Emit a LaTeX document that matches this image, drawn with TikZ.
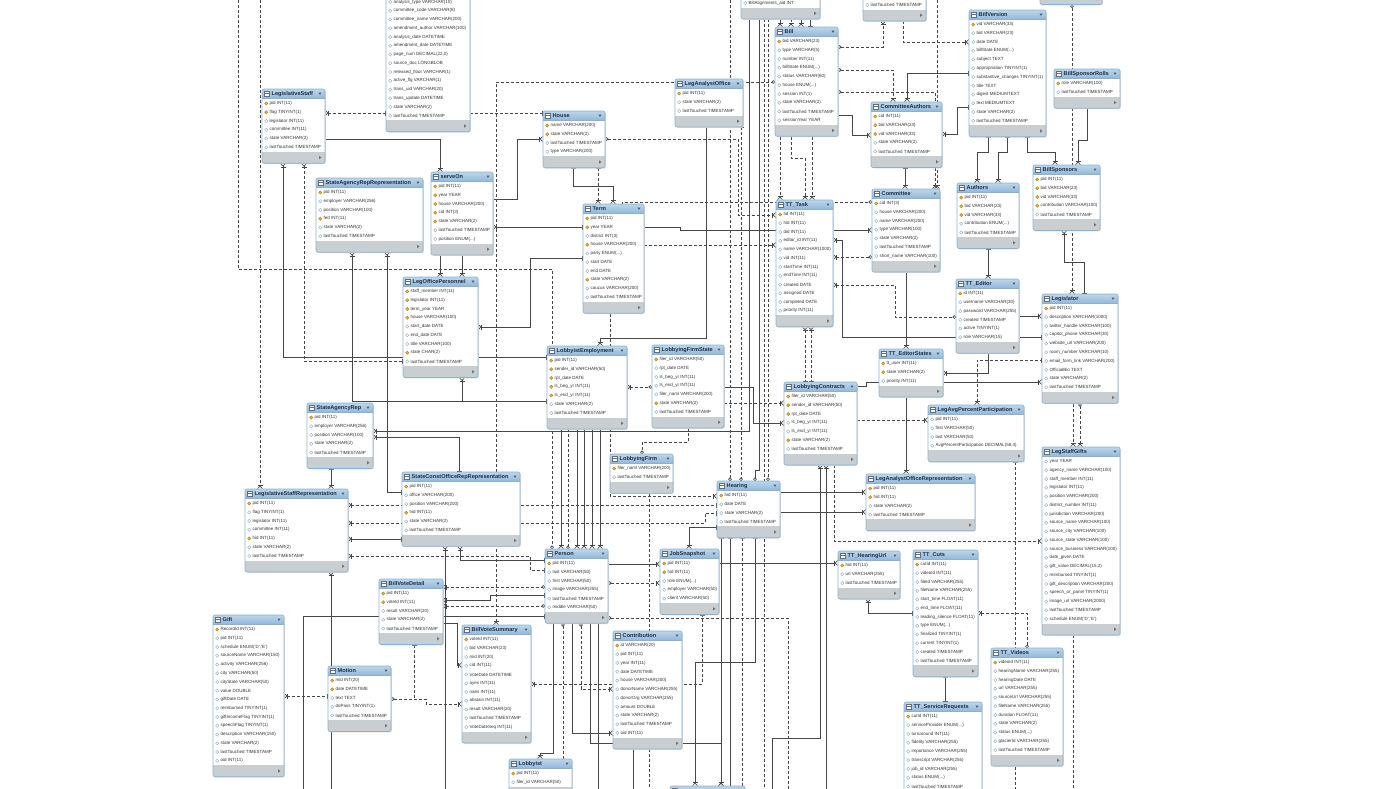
\documentclass[tikz,border=0pt]{standalone}
\usepackage{fontspec}
\setmainfont{Liberation Sans}
\usetikzlibrary{arrows.meta}
\pgfdeclarelayer{bg}
\pgfsetlayers{bg,main}
\definecolor{hdrA}{HTML}{BCD6EA}
\definecolor{hdrB}{HTML}{93B9D9}
\definecolor{bordc}{HTML}{8FB0CC}
\definecolor{footc}{HTML}{C9CED3}
\definecolor{ttlc}{HTML}{1D2E4A}
\definecolor{rowc}{HTML}{333333}
\definecolor{lnkc}{HTML}{474747}
\definecolor{keyc}{HTML}{E8B730}
\definecolor{keyd}{HTML}{A9801A}
\definecolor{dmdc}{HTML}{86A9C9}
\definecolor{shadc}{HTML}{D4DCE4}
\def\icofillk{keyc}\def\icofilld{white}
\def\icodrawk{keyd}\def\icodrawd{dmdc}
\def\ddd{...}
\tikzset{
  crow/.tip={Bar[width=5pt,line width=0.6pt] Straight Barb[reversed,length=2.6pt,width=5pt,line width=0.6pt]},
  one/.tip={Bar[width=5pt,line width=0.6pt]},
  zo/.tip={Circle[open,length=3.4pt,width=3.4pt,line width=0.6pt,fill=white]},
  rel/.style={draw=lnkc,line width=0.7pt},
  nrel/.style={rel,dash pattern=on 3pt off 2pt},
  tnode/.style={rectangle,inner sep=0pt,outer sep=0pt,draw=none},
  rowtxt/.style={inner sep=0pt,anchor=west,text=rowc,font=\fontsize{4.5}{5}\selectfont},
  ttltxt/.style={inner sep=0pt,anchor=west,text=ttlc,font=\bfseries\fontsize{5.6}{6}\selectfont},
}
\newcommand\etab[7]{%
  \pgfmathsetmacro\tabB{#3+21.75+8.75*#5}%
  \pgfmathsetmacro\tabW{#4-#2}%
  \pgfmathsetmacro\tabH{\tabB-#3}%
  \node[tnode,minimum width=\tabW pt,minimum height=\tabH pt,anchor=north west] (#1) at (#2,#3) {};%
  \fill[shadc,rounded corners=2pt] (#2+0.8,#3+0.8) rectangle (#4+0.8,\tabB+0.8);%
  \begin{scope}
    \clip[rounded corners=2pt] (#2,#3) rectangle (#4,\tabB);
    \fill[white] (#2,#3) rectangle (#4,\tabB);
    \shade[top color=hdrA,bottom color=hdrB] (#2,#3) rectangle (#4,#3+9);
    \draw[bordc,line width=0.4pt] (#2,#3+9) -- (#4,#3+9);
    \fill[footc] (#2,\tabB-11.5) rectangle (#4,\tabB);
  \end{scope}
  \draw[bordc,line width=0.6pt,rounded corners=2pt] (#2,#3) rectangle (#4,\tabB);
  \draw[ttlc!70,fill=white,line width=0.35pt] (#2+2.5,#3+2.4) rectangle (#2+7.5,#3+6.8);
  \draw[ttlc!70,line width=0.3pt] (#2+2.5,#3+3.8) -- (#2+7.5,#3+3.8);
  \node[ttltxt] at (#2+9.5,#3+4.7) {#6};
  \fill[ttlc!80] (#4-6.5,#3+3.5) -- (#4-3.5,#3+3.5) -- (#4-5,#3+5.8) -- cycle;
  \fill[black!55] (#4-6,\tabB-7.5) -- (#4-6,\tabB-4) -- (#4-3.5,\tabB-5.75) -- cycle;
  \foreach \rk/\rt [count=\ri] in {#7} {%
    \pgfmathsetmacro\yy{#3+14.5+8.75*(\ri-1)}%
    \edef\icf{\csname icofill\rk\endcsname}\edef\icd{\csname icodraw\rk\endcsname}%
    \path[fill=\icf,draw=\icd,line width=0.4pt] (#2+2.6,\yy) -- (#2+4.2,\yy-1.6) -- (#2+5.8,\yy) -- (#2+4.2,\yy+1.6) -- cycle;
    \node[rowtxt] at (#2+7.5,\yy) {\rt};
  }%
}
\begin{document}
\catcode`\_=12
\begin{tikzpicture}[x=1pt,y=-1pt]
\useasboundingbox (0,0) rectangle (1400,788);
% ---------------- tables ----------------
\etab{anlt}{386}{-12.5}{470}{14}{}{d/analysis_type VARCHAR(10), d/committee_code VARCHAR(8), d/committee_name VARCHAR(200), d/amendment_author VARCHAR(100), d/analysis_date DATETIME, d/amendment_date DATETIME, d/{page_num DECIMAL(22,0)}, d/source_doc LONGBLOB, d/released_floor VARCHAR(1), d/active_flg VARCHAR(1), d/trans_uid VARCHAR(20), d/trans_update DATETIME, d/state VARCHAR(2), d/lastTouched TIMESTAMP}
\etab{balign}{741}{-11.5}{820}{1}{}{d/BillAlignments_aid INT}
\etab{tpart}{863}{-9.5}{926}{1}{}{d/lastTouched TIMESTAMP}
\etab{trpart}{1040}{-26}{1102}{1}{}{d/{}}
\etab{lstaff}{262}{89}{325}{6}{LegislativeStaff}{k/pid INT(11), k/flag TINYINT(1), d/legislator INT(11), d/committee INT(11), d/state VARCHAR(2), d/lastTouched TIMESTAMP}
\etab{sarr}{316}{178}{423}{6}{StateAgencyRepRepresentation}{k/pid INT(11), d/employer VARCHAR(256), d/position VARCHAR(100), k/fed INT(11), d/state VARCHAR(2), d/lastTouched TIMESTAMP}
\etab{serveon}{431}{172}{493}{7}{serveOn}{k/pid INT(11), k/year YEAR, k/house VARCHAR(200), k/cid INT(3), k/state VARCHAR(2), d/lastTouched TIMESTAMP, d/position ENUM(\ddd)}
\etab{house}{543}{111}{605}{4}{House}{k/name VARCHAR(200), k/state VARCHAR(2), d/lastTouched TIMESTAMP, d/type VARCHAR(200)}
\etab{term}{583}{204}{644}{10}{Term}{k/pid INT(11), k/year YEAR, d/district INT(3), k/house VARCHAR(200), d/party ENUM(\ddd), d/start DATE, d/end DATE, k/state VARCHAR(2), d/caucus VARCHAR(200), d/lastTouched TIMESTAMP}
\etab{lao}{675}{79}{743}{3}{LegAnalystOffice}{k/pid INT(11), d/state VARCHAR(2), d/lastTouched TIMESTAMP}
\etab{bill}{775}{27}{838}{10}{Bill}{k/bid VARCHAR(23), d/type VARCHAR(5), d/number INT(11), d/billState ENUM(\ddd), d/status VARCHAR(60), d/house ENUM(\ddd), d/session INT(1), d/state VARCHAR(2), d/lastTouched TIMESTAMP, d/sessionYear YEAR}
\etab{cauth}{871}{102}{942}{5}{CommitteeAuthors}{k/cid INT(11), k/bid VARCHAR(23), k/vid VARCHAR(33), d/state VARCHAR(2), d/lastTouched TIMESTAMP}
\etab{bver}{969}{10}{1046}{12}{BillVersion}{k/vid VARCHAR(33), d/bid VARCHAR(23), d/date DATE, d/billState ENUM(\ddd), d/subject TEXT, d/appropriation TINYINT(1), d/substantive_changes TINYINT(1), d/title TEXT, d/digest MEDIUMTEXT, d/text MEDIUMTEXT, d/state VARCHAR(2), d/lastTouched TIMESTAMP}
\etab{bsrolls}{1054}{69}{1120}{2}{BillSponsorRolls}{k/role VARCHAR(100), d/lastTouched TIMESTAMP}
\etab{bspons}{1033}{165}{1100}{5}{BillSponsors}{k/pid INT(11), k/bid VARCHAR(23), k/vid VARCHAR(33), k/contribution VARCHAR(100), d/lastTouched TIMESTAMP}
\etab{authors}{957}{183}{1019}{5}{Authors}{k/pid INT(11), k/bid VARCHAR(23), k/vid VARCHAR(33), d/contribution ENUM(\ddd), d/lastTouched TIMESTAMP}
\etab{committee}{872}{189}{940}{7}{Committee}{k/cid INT(3), d/house VARCHAR(200), d/name VARCHAR(200), d/type VARCHAR(100), d/state VARCHAR(2), d/lastTouched TIMESTAMP, d/short_name VARCHAR(100)}
\etab{tttask}{776}{200}{833}{12}{TT_Task}{k/tid INT(11), d/hid INT(11), d/did INT(11), d/editor_id INT(11), d/name VARCHAR(1000), d/vid INT(11), d/startTime INT(11), d/endTime INT(11), d/created DATE, d/assigned DATE, d/completed DATE, d/priority INT(11)}
\etab{tted}{956}{279}{1019}{6}{TT_Editor}{k/id INT(11), d/username VARCHAR(30), d/password VARCHAR(255), d/created TIMESTAMP, d/active TINYINT(1), d/role VARCHAR(15)}
\etab{legis}{1042}{294}{1118}{10}{Legislator}{k/pid INT(11), d/description VARCHAR(1000), d/twitter_handle VARCHAR(100), d/capitol_phone VARCHAR(30), d/website_url VARCHAR(200), d/room_number VARCHAR(10), d/email_form_link VARCHAR(200), d/OfficialBio TEXT, d/state VARCHAR(2), d/lastTouched TIMESTAMP}
\etab{ttes}{879}{349}{943}{3}{TT_EditorStates}{k/tt_user INT(11), k/state VARCHAR(2), d/priority INT(11)}
\etab{lapp}{928}{405}{1024}{4}{LegAvgPercentParticipation}{d/pid INT(11), d/first VARCHAR(50), d/last VARCHAR(50), d/{AvgPercentParticipation DECIMAL(58,4)}}
\etab{lsg}{1042}{447}{1120}{19}{LegStaffGifts}{d/year YEAR, d/agency_name VARCHAR(100), d/staff_member INT(11), d/legislator INT(11), d/position VARCHAR(200), d/district_number INT(11), d/jurisdiction VARCHAR(200), d/source_name VARCHAR(100), d/source_city VARCHAR(100), d/source_state VARCHAR(100), d/source_business VARCHAR(100), d/date_given DATE, d/{gift_value DECIMAL(15,2)}, d/reimbursed TINYINT(1), d/gift_description VARCHAR(200), d/speech_or_panel TINYINT(1), d/image_url VARCHAR(2000), d/lastTouched TIMESTAMP, d/{schedule ENUM('D','E')}}
\etab{laor}{866}{474}{975}{4}{LegAnalystOfficeRepresentation}{k/pid INT(11), k/hid INT(11), d/state VARCHAR(2), d/lastTouched TIMESTAMP}
\etab{lcon}{784}{382}{857}{7}{LobbyingContracts}{k/filer_id VARCHAR(50), k/sender_id VARCHAR(50), k/rpt_date DATE, d/ls_beg_yr INT(11), d/ls_end_yr INT(11), k/state VARCHAR(2), d/lastTouched TIMESTAMP}
\etab{lemp}{547}{346}{627}{7}{LobbyistEmployment}{k/pid INT(11), k/sender_id VARCHAR(50), k/rpt_date DATE, k/ls_beg_yr INT(11), k/ls_end_yr INT(11), d/state VARCHAR(2), d/lastTouched TIMESTAMP}
\etab{lfs}{652}{345}{724}{7}{LobbyingFirmState}{k/filer_id VARCHAR(50), d/rpt_date DATE, d/ls_beg_yr INT(11), d/ls_end_yr INT(11), d/filer_naml VARCHAR(200), k/state VARCHAR(2), d/lastTouched TIMESTAMP}
\etab{lfirm}{610}{454}{673}{2}{LobbyingFirm}{k/filer_naml VARCHAR(200), d/lastTouched TIMESTAMP}
\etab{hearing}{717}{481}{780}{4}{Hearing}{k/hid INT(11), d/date DATE, d/state VARCHAR(2), d/lastTouched TIMESTAMP}
\etab{lop}{403}{277}{478}{9}{LegOfficePersonnel}{k/staff_member INT(11), k/legislator INT(11), k/term_year YEAR, k/house VARCHAR(100), d/start_date DATE, d/end_date DATE, d/title VARCHAR(100), k/state CHAR(2), d/lastTouched TIMESTAMP}
\etab{sar}{307}{403}{373}{5}{StateAgencyRep}{k/pid INT(11), d/employer VARCHAR(256), d/position VARCHAR(100), d/state VARCHAR(2), d/lastTouched TIMESTAMP}
\etab{scor}{402}{472}{520}{6}{StateConstOfficeRepRepresentation}{k/pid INT(11), d/office VARCHAR(200), d/position VARCHAR(200), k/hid INT(11), d/state VARCHAR(2), d/lastTouched TIMESTAMP}
\etab{lsr}{245}{489}{348}{7}{LegislativeStaffRepresentation}{k/pid INT(11), d/flag TINYINT(1), d/legislator INT(11), d/committee INT(11), k/hid INT(11), d/state VARCHAR(2), d/lastTouched TIMESTAMP}
\etab{bvd}{379}{579}{443}{5}{BillVoteDetail}{k/pid INT(11), k/voteId INT(11), d/result VARCHAR(20), d/state VARCHAR(2), d/lastTouched TIMESTAMP}
\etab{gift}{213}{615}{284}{16}{Gift}{k/RecordId INT(11), d/pid INT(11), d/{schedule ENUM('D','E')}, d/sourceName VARCHAR(150), d/activity VARCHAR(256), d/city VARCHAR(50), d/cityState VARCHAR(50), d/value DOUBLE, d/giftDate DATE, d/reimbursed TINYINT(1), d/giftIncomeFlag TINYINT(1), d/speechFlag TINYINT(1), d/description VARCHAR(150), d/state VARCHAR(2), d/lastTouched TIMESTAMP, d/oid INT(11)}
\etab{motion}{328}{666}{391}{5}{Motion}{k/mid INT(20), k/date DATETIME, d/text TEXT, d/doPass TINYINT(1), d/lastTouched TIMESTAMP}
\etab{bvs}{462}{625}{531}{11}{BillVoteSummary}{k/voteId INT(11), d/bid VARCHAR(23), d/mid INT(20), d/cid INT(11), d/VoteDate DATETIME, d/ayes INT(11), d/naes INT(11), d/abstain INT(11), d/result VARCHAR(20), d/lastTouched TIMESTAMP, d/VoteDateSeq INT(11)}
\etab{lobbyist}{509}{759}{572}{2}{Lobbyist}{k/pid INT(11), d/filer_id VARCHAR(50)}
\etab{person}{545}{549}{608}{6}{Person}{k/pid INT(11), d/last VARCHAR(50), d/first VARCHAR(50), d/image VARCHAR(255), d/lastTouched TIMESTAMP, d/middle VARCHAR(50)}
\etab{jobs}{660}{549}{719}{5}{JobSnapshot}{k/pid INT(11), k/hid INT(11), d/role ENUM(\ddd), d/employer VARCHAR(50), d/client VARCHAR(50)}
\etab{contrib}{613}{631}{682}{11}{Contribution}{k/id VARCHAR(20), d/pid INT(11), d/year INT(11), d/date DATETIME, d/house VARCHAR(200), d/donorName VARCHAR(255), d/donorOrg VARCHAR(255), d/amount DOUBLE, d/state VARCHAR(2), d/lastTouched TIMESTAMP, d/oid INT(11)}
\etab{tthu}{838}{551}{900}{3}{TT_HearingUrl}{k/hid INT(11), d/url VARCHAR(255), d/lastTouched TIMESTAMP}
\etab{ttcuts}{913}{550}{978}{12}{TT_Cuts}{k/cutId INT(11), d/videoId INT(11), d/fileId VARCHAR(255), d/fileName VARCHAR(255), d/start_time FLOAT(11), d/end_time FLOAT(11), d/leading_silence FLOAT(11), d/type ENUM(\ddd), d/finalized TINYINT(1), d/current TINYINT(1), d/created TIMESTAMP, d/lastTouched TIMESTAMP}
\etab{ttvid}{991}{648}{1063}{11}{TT_Videos}{k/videoId INT(11), d/hearingName VARCHAR(255), d/hearingDate DATE, d/url VARCHAR(255), d/sourceUrl VARCHAR(255), d/fileName VARCHAR(255), d/duration FLOAT(11), d/state VARCHAR(2), d/status ENUM(\ddd), d/glacierId VARCHAR(255), d/lastTouched TIMESTAMP}
\etab{ttsr}{904}{702}{982}{9}{TT_ServiceRequests}{k/cutId INT(11), d/serviceProvider ENUM(\ddd), d/turnaround INT(11), d/fidelity VARCHAR(255), d/importance VARCHAR(255), d/transcript VARCHAR(255), d/job_id VARCHAR(255), d/status ENUM(\ddd), d/lastTouched TIMESTAMP}
\etab{botpart}{670}{786}{745}{1}{}{d/{}}
% free ends
\coordinate (fA) at (238,-5);  \coordinate (fB) at (260,-5);
\coordinate (fC) at (445,795); \coordinate (fD) at (303,795);
\coordinate (fE) at (331,795); \coordinate (fF) at (563,795);
\coordinate (fG) at (598,795); \coordinate (fH) at (633,795);
\coordinate (fI) at (649,795); \coordinate (fJ) at (788,795);
\coordinate (fK) at (730,795); \coordinate (fL) at (742,795);
\coordinate (fN) at (764,795); \coordinate (fO) at (772,795);
\coordinate (fP) at (826,795); \coordinate (fQ) at (730,-5);
\coordinate (fR) at (1015,795); \coordinate (fS) at (1073,795);
\coordinate (fT) at (937,-5);  \coordinate (mj) at (414,699);
% ---------------- connectors ----------------
\begin{pgfonlayer}{bg}
\fill[white] (0,0) rectangle (1400,788);
\draw[nrel,-zo] (fA) -- (238,269) -- (552,269) -- (person.north -| 552,0);
\draw[nrel,-crow] (fB) -- (lsr.north -| 260,0);
\draw[nrel,crow-one] (lstaff.east |- 0,113) -- (anlt.west |- 0,113);
\draw[rel,one-crow] (lstaff.east |- 0,139) -| (serveon.north -| 440,0);
\draw[rel,crow-one] (lstaff.south -| 283,0) |- (lemp.west |- 0,357);
\draw[nrel,crow-one] (lstaff.south -| 304,0) |- (lop.west |- 0,361);
\draw[nrel,-one] (anlt.east |- 0,113) -- (house.west |- 0,113);
\draw[nrel,crow-zo] (bvs.north -| 496,0) |- (bill.west |- 0,82);
\draw[rel,one-crow] (house.south -| 573,0) -- (573,186) -| (term.north -| 613,0);
\draw[nrel,one-crow] (house.south -| 598,0) -- (term.north -| 598,0);
\draw[nrel,zo-crow] (house.east |- 0,139) -| (738,215) -- (tttask.west |- 0,215);
\draw[rel,crow-one] (serveon.east |- 0,227) -- (term.west |- 0,227);
\draw[rel,one-crow] (term.east |- 0,227) -- (680,227) -- (680,230) -- (committee.west |- 0,230);
\draw[rel,crow-one] (tttask.east |- 0,240) -| (842,337) -- (legis.west |- 0,337);
\draw[nrel,-zo] (term.north -| 622,0) -- (622,202) -- (committee.west |- 0,202);
\draw[nrel,one-crow] (term.east |- 0,245) -- (tttask.west |- 0,245);
\draw[nrel,crow-zo] (tttask.east |- 0,257) -- (committee.west |- 0,257);
\draw[rel,crow-one] (lop.east |- 0,327) -| (530,258) -- (term.west |- 0,258);
\draw[rel,crow-one] (sarr.south -| 352,0) |- (lemp.west |- 0,401);
\draw[rel,crow-one] (lop.south -| 462,0) |- (lemp.west |- 0,401);
\draw[rel,crow-one] (sarr.south -| 387,0) |- (scor.west |- 0,492);
\draw[rel,crow-one] (sar.east |- 0,431) -| (balign.south -| 749,0);
\draw[rel,crow-one] (sar.east |- 0,437) -| (scor.north -| 459,0);
\draw[rel,one-crow] (sar.south -| 331,0) -- (lsr.north -| 331,0);
\draw[nrel,crow-one] (lsr.east |- 0,505) -- (hearing.west |- 0,505);
\draw[nrel,crow-one] (lsr.east |- 0,523) -- (705,523) -- (705,513) -- (hearing.west |- 0,513);
\draw[rel,crow-one] (lsr.east |- 0,539) -- (scor.west |- 0,539);
\draw[nrel,crow-one] (lsr.east |- 0,556) -- (530,556) -- (530,570) -- (person.west |- 0,570);
\draw[rel,crow-] (scor.south -| 445,0) -- (fC);
\draw[rel,crow-one] (scor.south -| 460,0) |- (person.west |- 0,560);
\draw[nrel,crow-zo] (bvd.east |- 0,587) -- (person.west |- 0,587);
\draw[rel,crow-one] (bvd.east |- 0,600) -- (490,600) -- (490,595) -- (person.west |- 0,595);
\draw[nrel,crow-zo] (bvd.east |- 0,606) -- (person.west |- 0,606);
\draw[rel,-one] (fD) |- (person.west |- 0,616);
\draw[rel,one-crow] (bvd.east |- 0,623) -| (457,665) -- (bvs.west |- 0,665);
\draw[nrel,crow-one] (gift.east |- 0,696) -- (motion.west |- 0,696);
\draw[nrel,zo-crow] (motion.east |- 0,699) -- (426,699) -- (426,704) -- (bvs.west |- 0,704);
\draw[nrel,one-] (bvd.south -| 414,0) -- (mj);
\draw[rel,crow-] (lsr.south -| 331,0) -- (fE);
\draw[rel,one-crow] (person.south -| 553,0) -- (553,753) -- (540,753) -- (lobbyist.north -| 540,0);
\draw[nrel,zo-] (person.south -| 563,0) -- (fF);
\draw[rel,one-crow] (person.south -| 572,0) |- (contrib.west |- 0,733);
\draw[nrel,zo-crow] (person.south -| 581,0) |- (contrib.west |- 0,689);
\draw[rel,one-crow] (person.south -| 590,0) |- (721,743) -- (botpart.north -| 721,0);
\draw[rel,one-] (person.south -| 598,0) -- (fG);
\draw[nrel,crow-one] (bvs.east |- 0,684) -| (jobs.south -| 702,0);
\draw[rel,one-] (contrib.south -| 633,0) -- (fH);
\draw[nrel,one-] (lfirm.south -| 649,0) -- (fI);
\draw[rel,one-crow] (person.east |- 0,564) -- (jobs.west |- 0,564);
\draw[nrel,zo-crow] (person.east |- 0,583) -- (jobs.west |- 0,583);
\draw[nrel,zo-] (person.east |- 0,618) -| (fJ);
\draw[rel,one-crow] (hearing.south -| 755,0) |- (695,662) -- (botpart.north -| 695,0);
\draw[rel,one-crow] (hearing.south -| 721,0) -- (botpart.north -| 721,0);
\draw[rel,one-] (hearing.south -| 730,0) -- (fK);
\draw[nrel,one-] (hearing.south -| 742,0) -- (fL);
\draw[nrel,one-] (balign.south -| 764,0) -- (fN);
\draw[rel,crow-] (lcon.south -| 820,0) |- (772,738) -- (fO);
\draw[rel,one-crow] (jobs.east |- 0,563) -- (tthu.west |- 0,563);
\draw[rel,crow-] (lcon.south -| 826,0) -- (fP);
\draw[nrel,one-crow] (lcon.south -| 834,0) |- (lsg.west |- 0,541);
\draw[nrel,-zo] (fQ) -- (hearing.north -| 730,0);
\draw[nrel,one-zo] (lao.south -| 741,0) -- (hearing.north -| 741,0);
\draw[rel,one-zo] (balign.south -| 759,0) -- (759,470) -- (755,470) -- (hearing.north -| 755,0);
\draw[nrel,one-zo] (balign.south -| 768,0) -- (hearing.north -| 768,0);
\draw[rel,one-crow] (lao.south -| 706,0) |- (600,338) -- (lemp.north -| 600,0);
\draw[nrel,one-crow] (term.south -| 610,0) |- (hearing.west |- 0,496);
\draw[rel,one-crow] (lemp.south -| 561,0) -- (person.north -| 561,0);
\draw[nrel,one-zo] (lemp.south -| 568,0) -- (person.north -| 568,0);
\draw[rel,one-crow] (lemp.south -| 577,0) -- (person.north -| 577,0);
\draw[rel,one-crow] (lemp.south -| 584,0) -- (person.north -| 584,0);
\draw[rel,one-crow] (lemp.south -| 592,0) -- (person.north -| 592,0);
\draw[rel,one-crow] (lemp.south -| 600,0) -- (person.north -| 600,0);
\draw[nrel,crow-zo] (lemp.east |- 0,387) -- (lfs.west |- 0,387);
\draw[nrel,one-zo] (lfs.south -| 688,0) |- (642,442) -- (lfirm.north -| 642,0);
\draw[rel,one-crow] (lfs.east |- 0,387) -| (753,423) -- (lcon.west |- 0,423);
\draw[nrel,one-crow] (lfs.east |- 0,403) -- (lcon.west |- 0,403);
\draw[nrel,crow-one] (tttask.south -| 805,0) -- (lcon.north -| 805,0);
\draw[nrel,crow-one] (tttask.south -| 811,0) -- (lcon.north -| 811,0);
\draw[rel,one-crow] (lcon.east |- 0,386) -- (866,386) -- (866,382) -- (legis.west |- 0,382);
\draw[nrel,one-crow] (lcon.east |- 0,420) -- (lapp.west |- 0,420);
\draw[rel,one-crow] (hearing.east |- 0,492) -- (laor.west |- 0,492);
\draw[rel,one-crow] (hearing.east |- 0,512) -- (laor.west |- 0,512);
\draw[rel,crow-one] (jobs.north -| 689,0) |- (hearing.west |- 0,527);
\draw[rel,crow-one] (tthu.south -| 868,0) |- (ttcuts.west |- 0,613);
\draw[nrel,crow-zo] (ttcuts.east |- 0,613) -| (ttvid.north -| 1027,0);
\draw[rel,one-one] (ttcuts.south -| 945,0) -- (ttsr.north -| 945,0);
\draw[nrel,one-] (lapp.south -| 1015,0) -- (fR);
\draw[nrel,one-] (lsg.south -| 1073,0) -- (fS);
\draw[nrel,one-crow] (legis.south -| 1073,0) -- (lsg.north -| 1073,0);
\draw[nrel,zo-crow] (legis.south -| 1080,0) -- (lsg.north -| 1080,0);
\draw[nrel,crow-one] (lapp.north -| 977,0) |- (legis.west |- 0,360);
\draw[rel,crow-one] (ttes.east |- 0,373) -| (tted.south -| 988,0);
\draw[rel,one-crow] (committee.south -| 906,0) -- (ttes.north -| 906,0);
\draw[rel,one-crow] (ttes.south -| 906,0) -- (laor.north -| 906,0);
\draw[nrel,crow-zo] (tttask.east |- 0,285) -| (895,317) -- (tted.west |- 0,317);
\draw[rel,one-crow] (tted.east |- 0,316) -- (legis.west |- 0,316);
\draw[rel,one-crow] (authors.south -| 988,0) -- (tted.north -| 988,0);
\draw[rel,one-crow] (bver.south -| 988,0) -- (988,152) -- (977,152) -- (authors.north -| 977,0);
\draw[rel,one-crow] (bver.south -| 1007,0) -- (1007,152) -- (998,152) -- (authors.north -| 998,0);
\draw[rel,one-crow] (bver.south -| 1027,0) -- (1027,152) -- (1055,152) -- (bspons.north -| 1055,0);
\draw[rel,one-crow] (bsrolls.south -| 1087,0) -- (1087,140) -- (1078,140) -- (bspons.north -| 1078,0);
\draw[nrel,zo-crow] (trpart.south -| 1072,0) -- (legis.north -| 1072,0);
\draw[rel,crow-one] (bspons.south -| 1064,0) -- (1064,262) -- (1084,262) -- (legis.north -| 1084,0);
\draw[rel,crow-one] (cauth.east |- 0,134) -- (957,134) -- (957,107) -- (bver.west |- 0,107);
\draw[rel,crow-one] (cauth.north -| 907,0) |- (bver.west |- 0,73);
\draw[nrel,one-crow] (tpart.south -| 903,0) |- (bver.west |- 0,42);
\draw[nrel,zo-crow] (bill.east |- 0,47) -| (tpart.south -| 883,0);
\draw[nrel,zo-crow] (bill.east |- 0,70) -| (cauth.north -| 893,0);
\draw[nrel,zo-crow] (bill.east |- 0,92) -| (committee.north -| 935,0);
\draw[nrel,-crow] (fT) -- (committee.north -| 937,0);
\draw[rel,one-crow] (bill.east |- 0,115) -- (852,115) |- (cauth.west |- 0,135);
\draw[rel,one-crow] (cauth.south -| 905,0) -- (committee.north -| 905,0);
\draw[nrel,one-crow] (bill.south -| 780,0) -- (tttask.north -| 780,0);
\draw[nrel,one-crow] (bill.south -| 791,0) |- (805,158) -- (tttask.north -| 805,0);
\draw[nrel,one-crow] (bill.south -| 812,0) -- (tttask.north -| 812,0);
\draw[rel,-crow] (balign.south -| 780,0) -- (bill.north -| 780,0);
\draw[nrel,-crow] (balign.south -| 791,0) -- (bill.north -| 791,0);
\draw[rel,-crow] (balign.south -| 801,0) -- (bill.north -| 801,0);
\draw[rel,-one] (balign.south -| 810,0) -- (bill.north -| 810,0);
\draw[rel,one-crow] (serveon.east |- 0,199) -| (517,139) -- (house.west |- 0,139);
\draw[rel,one-crow] (serveon.south -| 440,0) -- (lop.north -| 440,0);
\draw[rel,one-crow] (serveon.south -| 462,0) -- (lop.north -| 462,0);
\end{pgfonlayer}
\end{tikzpicture}
\end{document}
